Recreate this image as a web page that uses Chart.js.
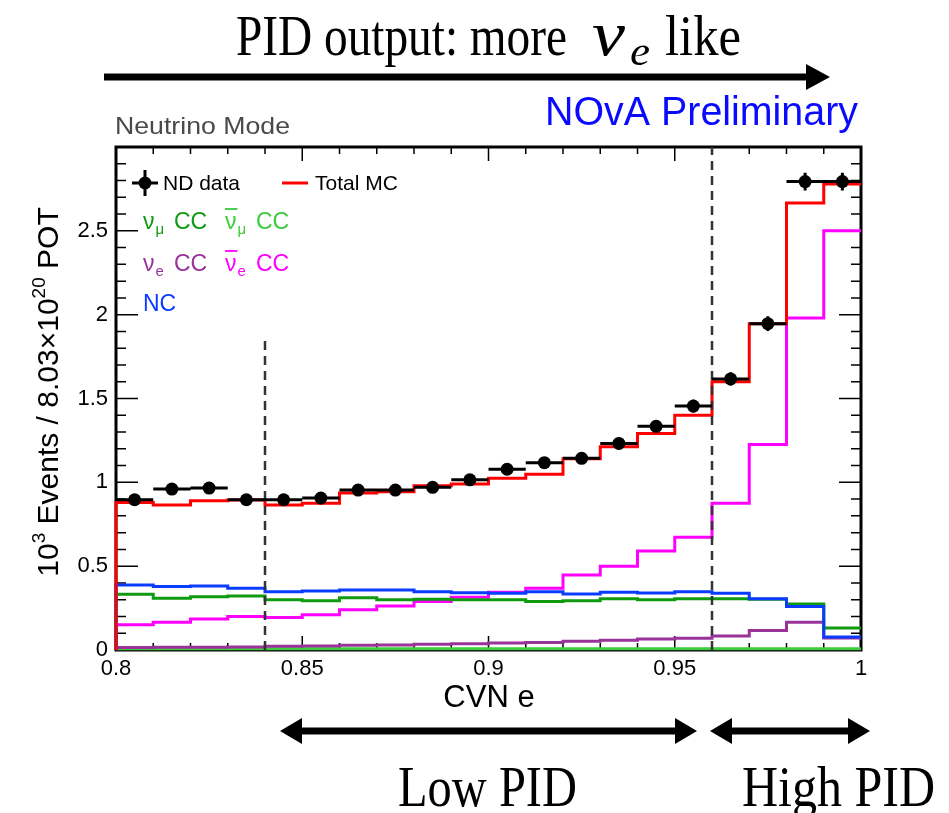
<!DOCTYPE html>
<html>
<head>
<meta charset="utf-8">
<script src="https://cdn.jsdelivr.net/npm/chart.js@4.4.1/dist/chart.umd.min.js"></script>
<style>
  html, body { margin: 0; padding: 0; background: #fff; }
  #wrap { width: 949px; height: 813px; }
</style>
</head>
<body>
<div id="wrap"><canvas id="cvn"></canvas></div>
<script>
// CVN e bins (lower edges), last upper edge is 1.0
const binLow = [0.80, 0.81, 0.82, 0.83, 0.84, 0.85, 0.86, 0.87, 0.88, 0.89,
                0.90, 0.91, 0.92, 0.93, 0.94, 0.95, 0.96, 0.97, 0.98, 0.99];
const binHigh = 1.00;

// 10^3 events
const ndData   = [0.896, 0.960, 0.966, 0.896, 0.896, 0.906, 0.954, 0.954, 0.970, 1.015,
                  1.078, 1.117, 1.143, 1.232, 1.334, 1.455, 1.617, 1.946, 2.794, 2.794];
const ndErr    = [0.030, 0.031, 0.031, 0.030, 0.030, 0.030, 0.031, 0.031, 0.031, 0.032,
                  0.033, 0.033, 0.034, 0.035, 0.037, 0.038, 0.040, 0.044, 0.053, 0.053];
const totalMC  = [0.880, 0.865, 0.890, 0.895, 0.865, 0.875, 0.936, 0.944, 0.980, 0.990,
                  1.025, 1.048, 1.141, 1.212, 1.291, 1.400, 1.600, 1.946, 2.666, 2.780];
const numuCC   = [0.332, 0.309, 0.318, 0.322, 0.299, 0.293, 0.312, 0.299, 0.303, 0.299,
                  0.299, 0.289, 0.293, 0.305, 0.299, 0.305, 0.305, 0.302, 0.275, 0.131];
const numubarCC = [0.007, 0.007, 0.007, 0.007, 0.007, 0.007, 0.007, 0.007, 0.007, 0.007,
                   0.007, 0.007, 0.007, 0.007, 0.007, 0.007, 0.007, 0.007, 0.007, 0.007];
const nueCC    = [0.015, 0.016, 0.017, 0.018, 0.022, 0.024, 0.028, 0.030, 0.034, 0.038,
                  0.042, 0.044, 0.052, 0.058, 0.066, 0.070, 0.084, 0.117, 0.165, 0.071];
const nuebarCC = [0.151, 0.165, 0.185, 0.200, 0.194, 0.210, 0.240, 0.263, 0.289, 0.315,
                  0.344, 0.368, 0.447, 0.500, 0.590, 0.673, 0.875, 1.226, 1.980, 2.500];
const ncBkg    = [0.388, 0.378, 0.382, 0.368, 0.348, 0.352, 0.358, 0.358, 0.348, 0.342,
                  0.338, 0.348, 0.334, 0.344, 0.340, 0.348, 0.338, 0.305, 0.260, 0.078];

const xTickValues = [0.8, 0.85, 0.9, 0.95, 1.0];
const xTickLabels = ['0.8', '0.85', '0.9', '0.95', '1'];
const yTickValues = [0, 0.5, 1, 1.5, 2, 2.5];
const yTickLabels = ['0', '0.5', '1', '1.5', '2', '2.5'];

// PID cut lines
const cutX = [0.84, 0.96];
const cutTop = [1.86, 3.0];

const SANS = '"Liberation Sans", Arial, sans-serif';
const SERIF = '"Liberation Serif", "Times New Roman", serif';

const C_RED = '#ff0000', C_NUMU = '#109a10', C_NUMUBAR = '#3ccc3c',
      C_NUE = '#993399', C_NUEBAR = '#ff00ff', C_NC = '#0a3cff';

function steps(vals) {
  const pts = [{x: binLow[0], y: 0}];
  vals.forEach((v, i) => pts.push({x: binLow[i], y: v}));
  pts.push({x: binHigh, y: vals[vals.length - 1]});
  return pts;
}

function hist(vals, color, order) {
  return {
    data: steps(vals),
    showLine: true,
    stepped: true,
    borderColor: color,
    borderWidth: 3,
    pointRadius: 0,
    fill: false,
    clip: false,
    order: order
  };
}

function fitText(ctx, text, x, base, width, font, color) {
  ctx.font = font;
  ctx.fillStyle = color;
  ctx.textAlign = 'left';
  ctx.textBaseline = 'alphabetic';
  const w = ctx.measureText(text).width;
  ctx.save();
  ctx.translate(x, base);
  ctx.scale(width / w, 1);
  ctx.fillText(text, 0, 0);
  ctx.restore();
}

function arrowHead(ctx, tipX, y, dir, len, half) {
  ctx.beginPath();
  ctx.moveTo(tipX, y);
  ctx.lineTo(tipX - dir * len, y - half);
  ctx.lineTo(tipX - dir * len, y + half);
  ctx.closePath();
  ctx.fill();
}

function doubleArrow(ctx, x1, x2, y) {
  ctx.fillRect(x1 + 10, y - 3.5, x2 - x1 - 20, 7);
  arrowHead(ctx, x1, y, -1, 22, 13);
  arrowHead(ctx, x2, y, 1, 22, 13);
}

function nuLabel(ctx, x, base, sub, bar, color) {
  ctx.fillStyle = color;
  ctx.strokeStyle = color;
  ctx.textAlign = 'left';
  ctx.textBaseline = 'alphabetic';
  ctx.font = '23px ' + SANS;
  ctx.fillText('\u03bd', x, base);
  const w = ctx.measureText('\u03bd').width;
  if (bar) {
    ctx.lineWidth = 1.8;
    ctx.beginPath();
    ctx.moveTo(x, base - 20);
    ctx.lineTo(x + w + 1, base - 20);
    ctx.stroke();
  }
  ctx.font = '15px ' + SANS;
  ctx.fillText(sub, x + w + 1, base + 5);
  ctx.font = '23px ' + SANS;
  ctx.fillText('CC', x + 31, base);
}

const decor = {
  id: 'decor',
  beforeDatasetsDraw(chart) {
    const {ctx, chartArea: a, scales: {x, y}} = chart;
    ctx.save();
    // frame
    ctx.strokeStyle = '#000';
    ctx.lineWidth = 3;
    ctx.strokeRect(a.left, a.top, a.width, a.height);
    // inner ticks
    ctx.lineWidth = 1.5;
    ctx.beginPath();
    for (let k = 0; k <= 30; k++) {
      const py = y.getPixelForValue(k / 10);
      const len = k % 5 === 0 ? 22 : 10;
      ctx.moveTo(a.left, py); ctx.lineTo(a.left + len, py);
      ctx.moveTo(a.right, py); ctx.lineTo(a.right - len, py);
    }
    for (let k = 0; k <= 20; k++) {
      const px = x.getPixelForValue(0.8 + k * 0.01);
      const len = k % 5 === 0 ? 14 : 7;
      ctx.moveTo(px, a.bottom); ctx.lineTo(px, a.bottom - len);
      ctx.moveTo(px, a.top); ctx.lineTo(px, a.top + len);
    }
    ctx.stroke();
    ctx.restore();
  },
  afterDatasetsDraw(chart) {
    const {ctx, scales: {x, y}} = chart;
    ctx.save();
    // cut lines
    ctx.strokeStyle = '#333';
    ctx.lineWidth = 2.5;
    ctx.setLineDash([9, 6]);
    cutX.forEach((c, i) => {
      const px = x.getPixelForValue(c);
      ctx.beginPath();
      ctx.moveTo(px, y.getPixelForValue(0));
      ctx.lineTo(px, y.getPixelForValue(cutTop[i]));
      ctx.stroke();
    });
    ctx.setLineDash([]);
    // data error bars
    ctx.strokeStyle = '#000';
    ctx.lineWidth = 3;
    ctx.beginPath();
    ndData.forEach((v, i) => {
      const xl = x.getPixelForValue(binLow[i]);
      const xr = x.getPixelForValue(i + 1 < binLow.length ? binLow[i + 1] : binHigh);
      const py = y.getPixelForValue(v);
      const xc = (xl + xr) / 2;
      ctx.moveTo(xl, py); ctx.lineTo(xr, py);
      ctx.moveTo(xc, y.getPixelForValue(v - ndErr[i]));
      ctx.lineTo(xc, y.getPixelForValue(v + ndErr[i]));
    });
    ctx.stroke();
    ctx.restore();
  },
  afterDraw(chart) {
    const {ctx} = chart;
    ctx.save();

    // headline with arrow
    fitText(ctx, 'PID output: more', 236, 55, 331, '57px ' + SERIF, '#000');
    fitText(ctx, '\u03bd', 592, 55, 33, 'italic 64px ' + SERIF, '#000');
    fitText(ctx, 'e', 630, 65, 20, 'italic 42px ' + SERIF, '#000');
    fitText(ctx, 'like', 665, 55, 76, '57px ' + SERIF, '#000');

    ctx.fillStyle = '#000';
    ctx.fillRect(104, 73.5, 706, 7);
    arrowHead(ctx, 830, 77, 1, 24, 13);

    // labels above frame
    fitText(ctx, 'NOvA Preliminary', 545, 125, 313, '40px ' + SANS, '#0a0aff');
    fitText(ctx, 'Neutrino Mode', 115, 134, 175, '24px ' + SANS, '#4a4a4a');

    // y title
    ctx.save();
    ctx.translate(58, 392);
    ctx.rotate(-Math.PI / 2);
    const yParts = [
      {t: '10', s: 30, dy: 0}, {t: '3', s: 19, dy: -13},
      {t: ' Events / 8.03\u00d710', s: 30, dy: 0}, {t: '20', s: 19, dy: -13},
      {t: ' POT', s: 30, dy: 0}
    ];
    let yw = 0;
    yParts.forEach(p => { ctx.font = p.s + 'px ' + SANS; p.w = ctx.measureText(p.t).width; yw += p.w; });
    let yx = -yw / 2;
    ctx.fillStyle = '#000';
    ctx.textAlign = 'left';
    yParts.forEach(p => { ctx.font = p.s + 'px ' + SANS; ctx.fillText(p.t, yx, p.dy); yx += p.w; });
    ctx.restore();

    // x title
    ctx.font = '31px ' + SANS;
    ctx.textAlign = 'center';
    ctx.fillStyle = '#000';
    ctx.fillText('CVN e', 489, 707);

    // PID ranges
    doubleArrow(ctx, 280, 697, 731);
    doubleArrow(ctx, 710, 870, 731);
    fitText(ctx, 'Low PID', 398, 806, 179, '57px ' + SERIF, '#000');
    fitText(ctx, 'High PID', 742, 806, 193, '57px ' + SERIF, '#000');

    // legend
    ctx.fillStyle = '#000';
    ctx.strokeStyle = '#000';
    ctx.lineWidth = 3;
    ctx.beginPath();
    ctx.moveTo(132, 183); ctx.lineTo(158, 183);
    ctx.moveTo(145, 170); ctx.lineTo(145, 196);
    ctx.stroke();
    ctx.beginPath();
    ctx.arc(145, 183, 6.5, 0, Math.PI * 2);
    ctx.fill();
    ctx.font = '21px ' + SANS;
    ctx.textAlign = 'left';
    ctx.fillText('ND data', 163, 190);
    ctx.strokeStyle = C_RED;
    ctx.beginPath();
    ctx.moveTo(282, 183); ctx.lineTo(308, 183);
    ctx.stroke();
    ctx.fillText('Total MC', 315, 190);

    nuLabel(ctx, 143, 229, '\u03bc', false, C_NUMU);
    nuLabel(ctx, 225, 229, '\u03bc', true, C_NUMUBAR);
    nuLabel(ctx, 143, 271, 'e', false, C_NUE);
    nuLabel(ctx, 225, 271, 'e', true, C_NUEBAR);
    ctx.font = '23px ' + SANS;
    ctx.fillStyle = C_NC;
    ctx.fillText('NC', 143, 311);

    ctx.restore();
  }
};

const ctxCanvas = document.getElementById('cvn');

new Chart(ctxCanvas, {
  type: 'scatter',
  data: {
    datasets: [
      {
        label: 'ND data',
        data: binLow.map((b, i) => ({x: b + 0.005, y: ndData[i]})),
        showLine: false,
        pointRadius: 6.5,
        pointBackgroundColor: '#000',
        pointBorderWidth: 0,
        clip: false,
        order: 0
      },
      Object.assign({label: 'Total MC'}, hist(totalMC, C_RED, 1)),
      Object.assign({label: 'NC'}, hist(ncBkg, C_NC, 2)),
      Object.assign({label: 'numu CC'}, hist(numuCC, C_NUMU, 3)),
      Object.assign({label: 'nuebar CC'}, hist(nuebarCC, C_NUEBAR, 4)),
      Object.assign({label: 'nue CC'}, hist(nueCC, C_NUE, 5)),
      Object.assign({label: 'numubar CC'}, hist(numubarCC, C_NUMUBAR, 6))
    ]
  },
  options: {
    responsive: true,
    maintainAspectRatio: false,
    animation: false,
    devicePixelRatio: 1,
    layout: {
      padding: {left: 56, right: 88, top: 147, bottom: 123}
    },
    plugins: {
      legend: {display: false},
      tooltip: {enabled: false}
    },
    scales: {
      x: {
        type: 'linear',
        min: 0.8,
        max: 1.0,
        grid: {display: false, drawTicks: false},
        border: {display: false},
        afterBuildTicks: s => { s.ticks = xTickValues.map(v => ({value: v})); },
        afterFit: s => { s.height = 40; },
        ticks: {
          padding: 6,
          maxRotation: 0,
          autoSkip: false,
          color: '#000',
          font: {family: SANS, size: 22},
          callback: (v, i) => xTickLabels[i]
        }
      },
      y: {
        type: 'linear',
        min: 0,
        max: 3,
        grid: {display: false, drawTicks: false},
        border: {display: false},
        afterBuildTicks: s => { s.ticks = yTickValues.map(v => ({value: v})); },
        afterFit: s => { s.width = 60; },
        ticks: {
          padding: 8,
          autoSkip: false,
          color: '#000',
          font: {family: SANS, size: 22},
          callback: (v, i) => yTickLabels[i]
        }
      }
    }
  },
  plugins: [decor]
});
</script>
</body>
</html>
